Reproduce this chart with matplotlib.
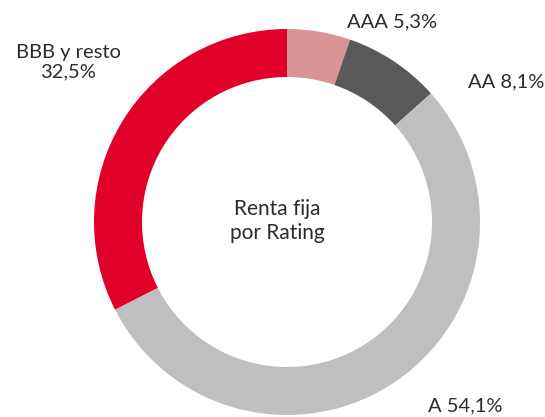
import matplotlib
matplotlib.use("Agg")
import matplotlib.pyplot as plt

labels = ["AAA", "AA", "A", "BBB y resto"]
shares = [5.3, 8.1, 54.1, 32.5]
colors = ["#D99594", "#595959", "#BFBFBF", "#E0002A"]

label_text = ["AAA 5,3%", "AA 8,1%", "A 54,1%", "BBB y resto\n32,5%"]
label_pos = [(392, 22), (506, 82), (465, 406), (68, 62)]

plt.rcParams["font.family"] = ["Lato", "DejaVu Sans"]

W, H = 545, 417
fig = plt.figure(figsize=(W / 100, H / 100), dpi=100)
ax = fig.add_axes([0, 0, 1, 1])

cx, cy = 287, H - 222
R = 193
ax.pie(shares, colors=colors, startangle=90, counterclock=False,
       center=(cx, cy), radius=R,
       wedgeprops=dict(width=48, linewidth=0))
ax.set_xlim(0, W)
ax.set_ylim(0, H)
ax.set_aspect("equal")
ax.axis("off")

for txt, (x, y) in zip(label_text, label_pos):
    ax.text(x, H - y, txt, ha="center", va="center", fontsize=14.5,
            color="#2b2b2b", linespacing=1.2)

ax.text(277, H - 221, "Renta fija\npor Rating", ha="center", va="center",
        fontsize=15, color="#2b2b2b", linespacing=1.25)

fig.savefig("out.png", dpi=100)
